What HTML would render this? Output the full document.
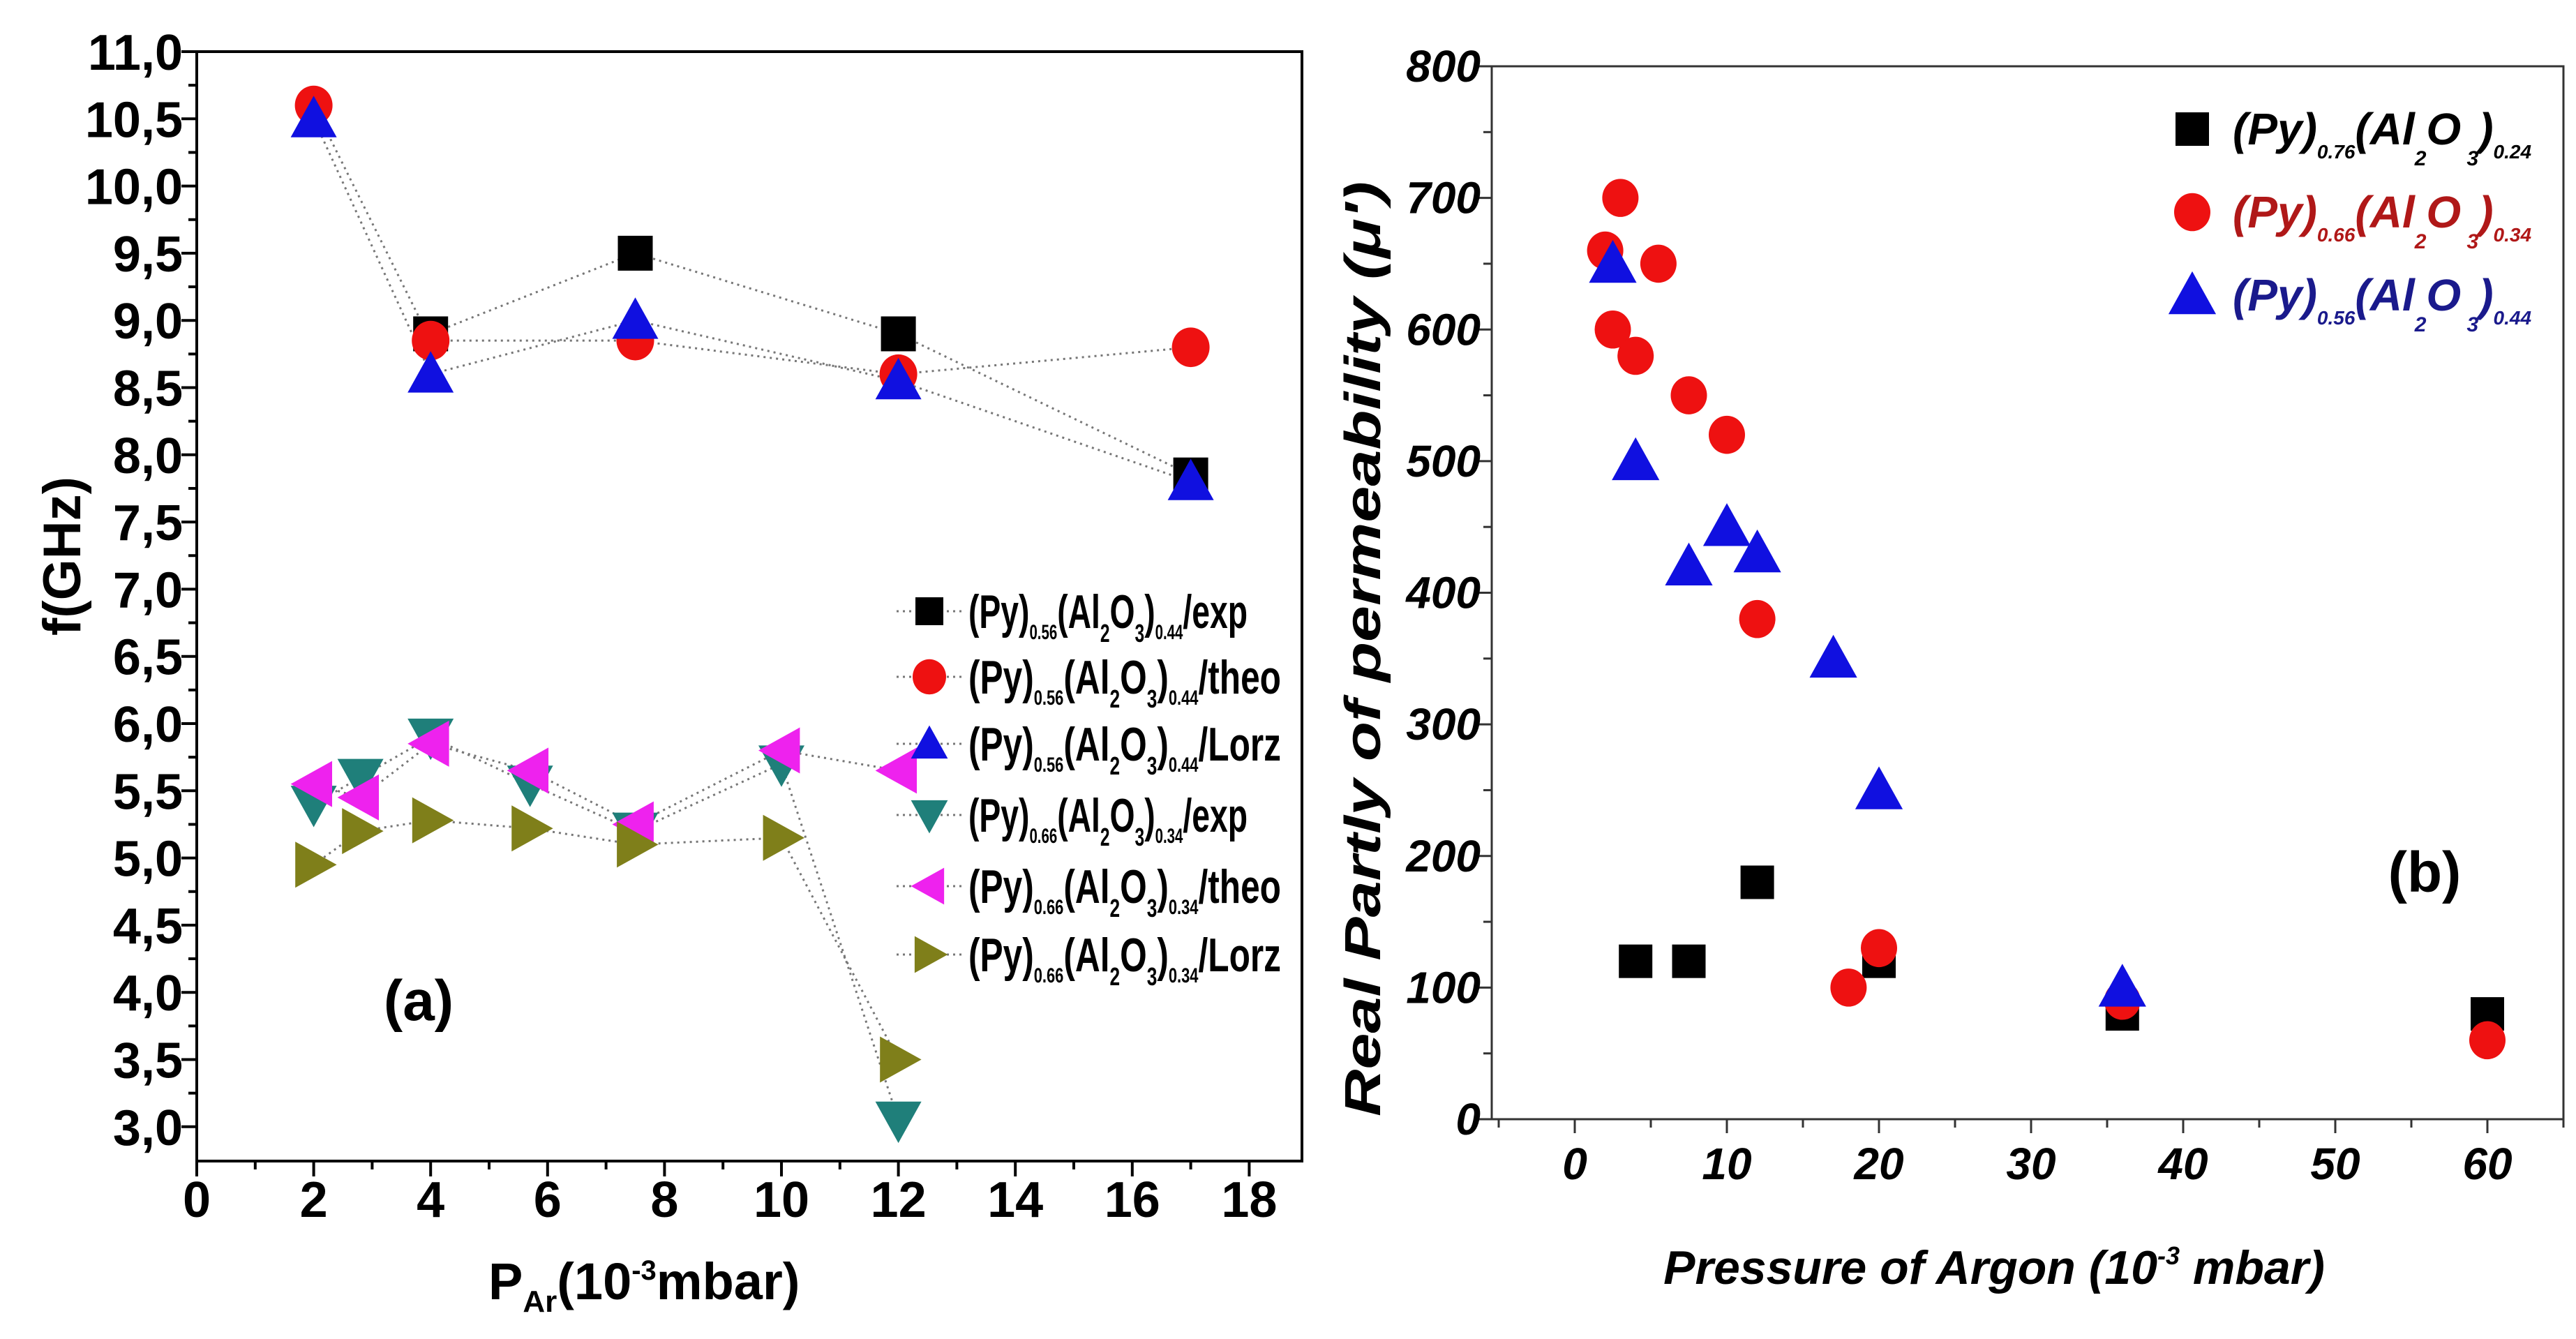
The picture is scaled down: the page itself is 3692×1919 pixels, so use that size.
<!DOCTYPE html>
<html><head><meta charset="utf-8"><style>
html,body{margin:0;padding:0;background:#fff}
svg{display:block}
text{font-family:"Liberation Sans Narrow","Liberation Sans",sans-serif;font-weight:bold}
</style></head><body>
<svg id="svg" width="3692" height="1919" viewBox="0 0 3692 1919" xmlns="http://www.w3.org/2000/svg">
<g id="pa"></g>
<g id="pb"></g>
</svg>
<script>
// Panel (a) data
const aX = [2, 4, 7.5, 12, 17];
const aExpX = [4, 7.5, 12, 17];
const aExp44 = [8.9, 9.5, 8.9, 7.85];
const aTheo44 = [10.6, 8.85, 8.85, 8.6, 8.8];
const aLorz44 = [10.5, 8.6, 9.0, 8.55, 7.8];
const aX34 = [2, 2.8, 4, 5.7, 7.5, 10, 12];
const aExp34 = [5.4, 5.6, 5.9, 5.55, 5.2, 5.7, 3.05];
const aTheo34 = [5.55, 5.45, 5.85, 5.65, 5.25, 5.8, 5.65];
const aLorz34 = [4.95, 5.2, 5.28, 5.22, 5.1, 5.15, 3.5];
const aXTicks = [0,2,4,6,8,10,12,14,16,18];
const aYTicks = [3,3.5,4,4.5,5,5.5,6,6.5,7,7.5,8,8.5,9,9.5,10,10.5,11];
// Panel (b) data
const bBlackX = [4, 7.5, 12, 20, 36, 60];
const bBlackY = [120, 120, 180, 120, 80, 80];
const bRedX = [2, 2.5, 3, 4, 5.5, 7.5, 10, 12, 18, 20, 36, 60];
const bRedY = [660, 600, 700, 580, 650, 550, 520, 380, 100, 130, 90, 60];
const bBlueX = [2.5, 4, 7.5, 10, 12, 17, 20, 36];
const bBlueY = [650, 500, 420, 450, 430, 350, 250, 100];
const bXTicks = [0,10,20,30,40,50,60];
const bYTicks = [0,100,200,300,400,500,600,700,800];

const NS="http://www.w3.org/2000/svg";
function mk(parent,tag,attrs){const e=document.createElementNS(NS,tag);for(const k in attrs)e.setAttribute(k,attrs[k]);parent.appendChild(e);return e;}

// ---------- Panel A ----------
const pa=document.getElementById('pa');
const ax=v=>282+(v-0)*83.8;
const ay=v=>74+(11-v)*192.6;
let fr=mk(pa,'rect',{x:282,y:74,width:1584,height:1590,fill:'none',stroke:'#000','stroke-width':4});


for(let i=0;i<=18;i++){const t=mk(pa,'line',{x1:ax(i),x2:ax(i),y1:1664,y2:1664+(i%2?12:22),stroke:'#000','stroke-width':4});
}
aXTicks.forEach(v=>{const t=mk(pa,'text',{x:ax(v),y:1744,'font-size':72,'text-anchor':'middle'});t.textContent=v;
});
for(let v=3;v<=11.001;v+=0.25){const major=Math.abs(v*2-Math.round(v*2))<1e-6;const t=mk(pa,'line',{x1:282-(major?22:12),x2:282,y1:ay(v),y2:ay(v),stroke:'#000','stroke-width':4});
}
aYTicks.forEach(v=>{const t=mk(pa,'text',{x:262,y:ay(v)+26,'font-size':72,'text-anchor':'end'});t.textContent=v.toFixed(1).replace('.',',');
});
let yt=mk(pa,'text',{x:0,y:0,'font-size':76,'text-anchor':'middle',transform:'translate(115,797) rotate(-90)'});yt.textContent='f(GHz)';

let xt=mk(pa,'text',{x:700,y:1862,'font-size':74});
xt.innerHTML='P<tspan font-size="44" dy="18">Ar</tspan><tspan dy="-18">(10</tspan><tspan font-size="40" dy="-28">-3</tspan><tspan dy="28">mbar)</tspan>';

let la=mk(pa,'text',{x:600,y:1462,'font-size':82,'font-family':'Liberation Serif, serif','text-anchor':'middle'});la.textContent='(a)';


function marker(g,type,cx,cy,color,s){
  let e;
  if(type==='sq') e=mk(g,'rect',{x:cx-s/2,y:cy-s/2,width:s,height:s,fill:color});
  else if(type==='ci') e=mk(g,'ellipse',{cx:cx,cy:cy,rx:s/2,ry:s/2*1.05,fill:color});
  else{let p;const h=s*0.55;
    if(type==='up') p=[[cx,cy-h],[cx-h,cy+h*0.8],[cx+h,cy+h*0.8]];
    if(type==='dn') p=[[cx,cy+h],[cx-h,cy-h*0.8],[cx+h,cy-h*0.8]];
    if(type==='lt') p=[[cx-h,cy],[cx+h*0.8,cy-h],[cx+h*0.8,cy+h]];
    if(type==='rt') p=[[cx+h,cy],[cx-h*0.8,cy-h],[cx-h*0.8,cy+h]];
    e=mk(g,'polygon',{points:p.map(q=>q.join(',')).join(' '),fill:color});}
  return e;
}
const aSeries=[
 {xs:aExpX,ys:aExp44,t:'sq',c:'#000',n:'exp-044',s:50},
 {xs:aX,ys:aTheo44,t:'ci',c:'#ee1111',n:'theo-044',s:54},
 {xs:aX,ys:aLorz44,t:'up',c:'#1010e0',n:'lorz-044',s:60},
 {xs:aX34,ys:aExp34,t:'dn',c:'#1f7f7a',n:'exp-034',s:60},
 {xs:aX34,ys:aTheo34,t:'lt',c:'#ee22ee',n:'theo-034',s:60},
 {xs:aX34,ys:aLorz34,t:'rt',c:'#7f7f1a',n:'lorz-034',s:60}];
aSeries.forEach(S=>{
  const l=mk(pa,'polyline',{points:S.xs.map((x,i)=>ax(x)+','+ay(S.ys[i])).join(' '),fill:'none',stroke:'#777','stroke-width':3,'stroke-dasharray':'3 6'});
  
});
aSeries.forEach(S=>{S.xs.forEach((x,i)=>{const m=marker(pa,S.t,ax(x),ay(S.ys[i]),S.c,S.s);
  });});
// legend a
const legA=[['0.56','0.44','/exp'],['0.56','0.44','/theo'],['0.56','0.44','/Lorz'],['0.66','0.34','/exp'],['0.66','0.34','/theo'],['0.66','0.34','/Lorz']];
const legAY=[876,970,1066,1168,1270,1368];
const legAW=[400,448,448,400,448,448];
legA.forEach((L,i)=>{const S=aSeries[i];const y=legAY[i];
  const dl=mk(pa,'line',{x1:1285,x2:1380,y1:y,y2:y,stroke:'#777','stroke-width':3,'stroke-dasharray':'3 6'});
  
  const m=marker(pa,S.t,1332,y,S.c,S.t==='sq'?40:48);
  
  const t=mk(pa,'text',{x:1388,y:y+24,'font-size':68,textLength:legAW[i],lengthAdjust:'spacingAndGlyphs'});
  t.innerHTML='(Py)<tspan font-size="30" dy="16">'+L[0]+'</tspan><tspan dy="-16">(Al</tspan><tspan font-size="36" dy="20">2</tspan><tspan dy="-20">O</tspan><tspan font-size="36" dy="20">3</tspan><tspan dy="-20">)</tspan><tspan font-size="30" dy="16">'+L[1]+'</tspan><tspan dy="-16">'+L[2]+'</tspan>';
  
});

// ---------- Panel B ----------
const pb=document.getElementById('pb');
const bx=v=>2257+v*21.8;
const by=v=>1604-v*(1509/800);
let fb=mk(pb,'rect',{x:2138,y:95,width:1536,height:1509,fill:'none',stroke:'#333','stroke-width':3});

for(let v=-5;v<=65;v+=5){const major=v%10===0;const t=mk(pb,'line',{x1:bx(v),x2:bx(v),y1:1604,y2:1604+(major?20:12),stroke:'#333','stroke-width':3});
}
bXTicks.forEach(v=>{const t=mk(pb,'text',{x:bx(v),y:1690,'font-size':64,'text-anchor':'middle','font-style':'italic'});t.textContent=v;
});
for(let v=0;v<=800;v+=50){const major=v%100===0;const t=mk(pb,'line',{x1:2138-(major?20:12),x2:2138,y1:by(v),y2:by(v),stroke:'#333','stroke-width':3});
}
bYTicks.forEach(v=>{const t=mk(pb,'text',{x:2122,y:by(v)+22,'font-size':64,'text-anchor':'end','font-style':'italic'});t.textContent=v;
});
let ytb=mk(pb,'text',{x:0,y:0,'font-size':72,'text-anchor':'middle','font-style':'italic','font-family':'Liberation Sans, sans-serif',textLength:1340,lengthAdjust:'spacingAndGlyphs',transform:'translate(1978,930) rotate(-90)'});ytb.textContent='Real Partly of permeability (\u03bc\')';

let xtb=mk(pb,'text',{x:2858,y:1840,'font-size':68,'text-anchor':'middle','font-style':'italic'});
xtb.innerHTML='Pressure of Argon (10<tspan font-size="36" dy="-28">-3</tspan><tspan dy="28"> mbar)</tspan>';

let lb=mk(pb,'text',{x:3475,y:1278,'font-size':82,'font-family':'Liberation Serif, serif','text-anchor':'middle'});lb.textContent='(b)';

const bSeries=[
 {xs:bBlackX,ys:bBlackY,t:'sq',c:'#000',n:'py076',s:48},
 {xs:bRedX,ys:bRedY,t:'ci',c:'#ee1111',n:'py066',s:52},
 {xs:bBlueX,ys:bBlueY,t:'up',c:'#1010e0',n:'py056',s:62}];
bSeries.forEach(S=>{S.xs.forEach((x,i)=>{const m=marker(pb,S.t,bx(x),by(S.ys[i]),S.c,S.s);
  });});
const legB=[['0.76','0.24','#000'],['0.66','0.34','#b01818'],['0.56','0.44','#1a1a8c']];
const legBY=[185,304,423];
legB.forEach((L,i)=>{const S=bSeries[i];const y=legBY[i];
  const m=marker(pb,S.t,3142,y,S.c,S.s);
  
  const t=mk(pb,'text',{x:3200,y:y+22,'font-size':64,'font-style':'italic',fill:L[2]});
  t.innerHTML='(Py)<tspan font-size="28" dy="20">'+L[0]+'</tspan><tspan dy="-20">(Al</tspan><tspan font-size="30" dy="30">2</tspan><tspan dy="-30">O</tspan><tspan font-size="30" dy="30"> 3</tspan><tspan dy="-30">)</tspan><tspan font-size="28" dy="20">'+L[1]+'</tspan>';
  
});
</script>
</body></html>
